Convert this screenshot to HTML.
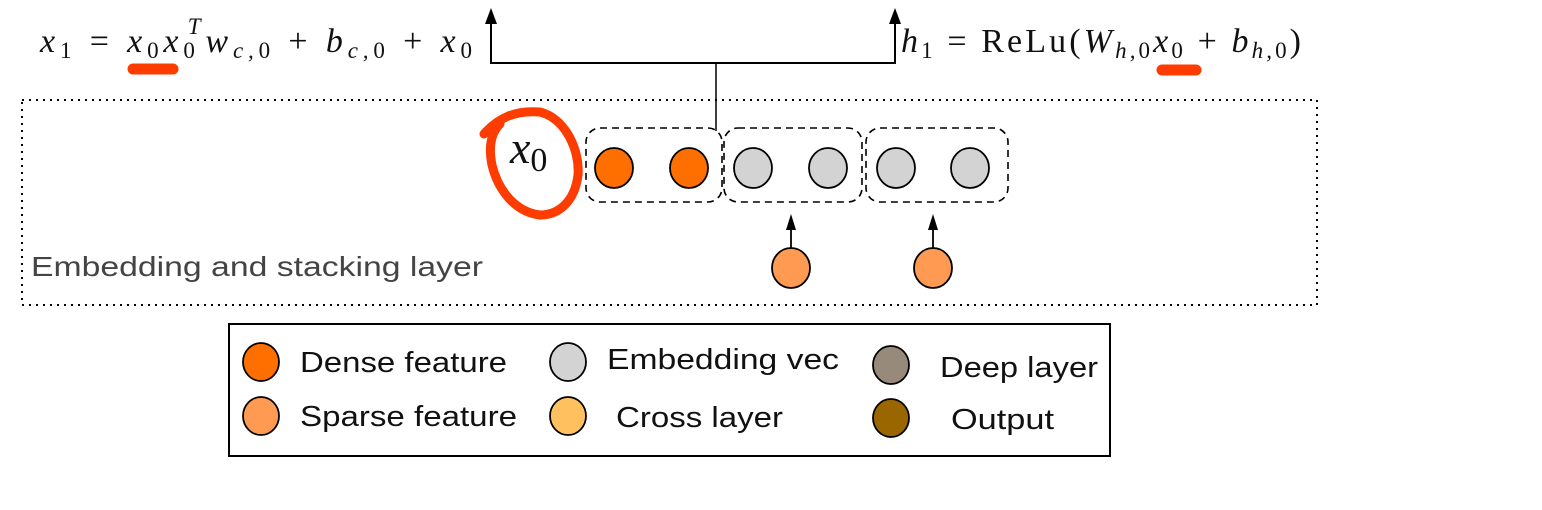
<!DOCTYPE html>
<html><head><meta charset="utf-8"><style>
html,body{margin:0;padding:0;background:#fff;width:1542px;height:510px;overflow:hidden}
svg{display:block}
.m{font-family:"Liberation Serif","DejaVu Serif",serif;font-size:34px;fill:#111}
.s{font-family:"Liberation Sans",sans-serif;font-size:29px;fill:#111}
</style></head><body>
<svg width="1542" height="510" viewBox="0 0 1542 510" xmlns="http://www.w3.org/2000/svg">
<!-- equations -->
<text class="m" x="40" y="52" textLength="432" lengthAdjust="spacing"><tspan font-style="italic">x</tspan><tspan font-size="23" dy="6">1</tspan><tspan dy="-6"> = </tspan><tspan font-style="italic">x</tspan><tspan font-size="23" dy="6">0</tspan><tspan font-style="italic" dy="-6">x</tspan><tspan font-size="23" dy="6">0</tspan><tspan font-size="23" dx="-12" dy="-24" font-style="italic">T</tspan><tspan font-style="italic" dy="18">w</tspan><tspan font-size="23" font-style="italic" dy="6">c,</tspan><tspan font-size="23">0</tspan><tspan dy="-6"> + </tspan><tspan font-style="italic">b</tspan><tspan font-size="23" font-style="italic" dy="6">c,</tspan><tspan font-size="23">0</tspan><tspan dy="-6"> + </tspan><tspan font-style="italic">x</tspan><tspan font-size="23" dy="6">0</tspan></text>
<text class="m" x="901" y="52" textLength="400" lengthAdjust="spacing"><tspan font-style="italic">h</tspan><tspan font-size="23" dy="6">1</tspan><tspan dy="-6"> = ReLu(</tspan><tspan font-style="italic">W</tspan><tspan font-size="23" font-style="italic" dy="6">h,</tspan><tspan font-size="23">0</tspan><tspan font-style="italic" dy="-6">x</tspan><tspan font-size="23" dy="6">0</tspan><tspan dy="-6"> + </tspan><tspan font-style="italic">b</tspan><tspan font-size="23" font-style="italic" dy="6">h,</tspan><tspan font-size="23">0</tspan><tspan dy="-6">)</tspan></text>
<!-- red underlines -->
<line x1="133" y1="69" x2="173" y2="69" stroke="#ff3c00" stroke-width="11" stroke-linecap="round"/>
<line x1="1162" y1="70" x2="1196" y2="70" stroke="#ff3c00" stroke-width="11" stroke-linecap="round"/>
<!-- connectors -->
<polyline points="491,22 491,63 895,63 895,22" fill="none" stroke="#000" stroke-width="2"/>
<polygon points="491,8 485,24 497,24" fill="#000"/>
<polygon points="895,8 889,24 901,24" fill="#000"/>
<line x1="716" y1="63" x2="716" y2="131" stroke="#000" stroke-width="1.5"/>
<!-- dotted box -->
<rect x="22" y="100" width="1295" height="205" fill="none" stroke="#000" stroke-width="2" stroke-dasharray="2,5"/>
<text x="31" y="276" font-family="Liberation Sans,sans-serif" font-size="28" fill="#444" textLength="452" lengthAdjust="spacingAndGlyphs">Embedding and stacking layer</text>
<!-- dashed groups -->
<g fill="none" stroke="#000" stroke-width="1.6" stroke-dasharray="7,5">
<rect x="586" y="128" width="136" height="74" rx="14"/>
<rect x="724" y="128" width="138" height="74" rx="14"/>
<rect x="866" y="128" width="142" height="74" rx="14"/>
</g>
<g stroke="#000" stroke-width="1.8">
<ellipse cx="614" cy="168" rx="19" ry="20" fill="#ff6f00"/>
<ellipse cx="689" cy="168" rx="19" ry="20" fill="#ff6f00"/>
<ellipse cx="753" cy="168" rx="19" ry="20" fill="#d3d3d3"/>
<ellipse cx="828" cy="168" rx="19" ry="20" fill="#d3d3d3"/>
<ellipse cx="896" cy="168" rx="19" ry="20" fill="#d3d3d3"/>
<ellipse cx="970" cy="168" rx="19" ry="20" fill="#d3d3d3"/>
<ellipse cx="791" cy="268" rx="19" ry="20" fill="#ff9a52"/>
<ellipse cx="933" cy="268" rx="19" ry="20" fill="#ff9a52"/>
<line x1="791" y1="248" x2="791" y2="228"/>
<line x1="933" y1="248" x2="933" y2="228"/>
</g>
<polygon points="791,214 786,230 796,230" fill="#000"/>
<polygon points="933,214 928,230 938,230" fill="#000"/>
<!-- x0 -->
<text class="m" x="510" y="163"><tspan font-style="italic" font-size="46">x</tspan><tspan font-size="34" dy="8">0</tspan></text>
<path d="M484,134 C498,118 515,110 540,112 C565,118 580,150 578,175 C575,200 560,215 540,215 C515,212 498,190 492,165 C488,145 492,132 500,124" fill="none" stroke="#ff3c00" stroke-width="9" stroke-linecap="round"/>
<!-- legend -->
<rect x="229" y="324" width="881" height="132" fill="none" stroke="#000" stroke-width="2"/>
<g stroke="#000" stroke-width="1.8">
<ellipse cx="261" cy="362" rx="18" ry="19" fill="#ff6f00"/>
<ellipse cx="261" cy="416" rx="18" ry="19" fill="#ff9a52"/>
<ellipse cx="568" cy="362" rx="18" ry="19" fill="#d3d3d3"/>
<ellipse cx="568" cy="416" rx="18" ry="19" fill="#ffc060"/>
<ellipse cx="891" cy="365" rx="18" ry="19" fill="#978a7b"/>
<ellipse cx="891" cy="418" rx="18" ry="19" fill="#9a6600"/>
</g>
<text class="s" x="300" y="372" textLength="207" lengthAdjust="spacingAndGlyphs">Dense feature</text>
<text class="s" x="300" y="426" textLength="217" lengthAdjust="spacingAndGlyphs">Sparse feature</text>
<text class="s" x="607" y="369" textLength="232" lengthAdjust="spacingAndGlyphs">Embedding vec</text>
<text class="s" x="616" y="427" textLength="167" lengthAdjust="spacingAndGlyphs">Cross layer</text>
<text class="s" x="940" y="377" textLength="158" lengthAdjust="spacingAndGlyphs">Deep layer</text>
<text class="s" x="951" y="429" textLength="103" lengthAdjust="spacingAndGlyphs">Output</text>
</svg>
</body></html>
